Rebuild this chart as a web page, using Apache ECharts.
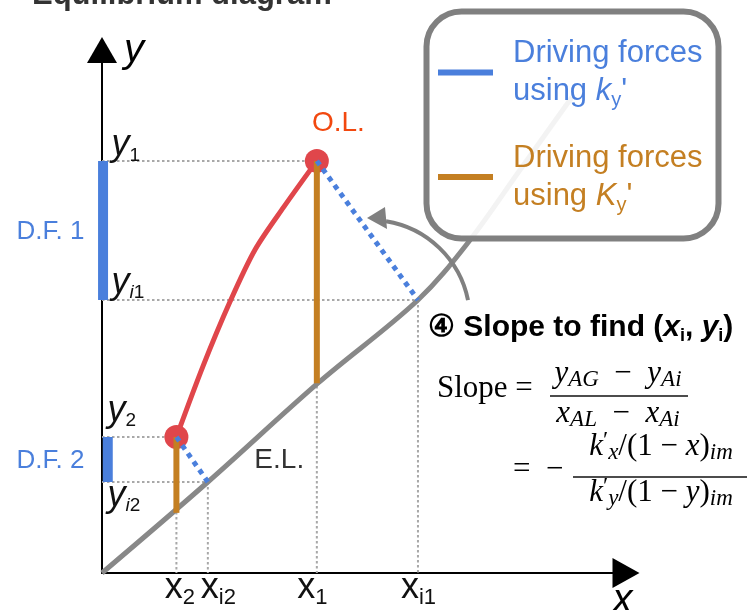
<!DOCTYPE html>
<html><head><meta charset="utf-8">
<script src="https://cdn.jsdelivr.net/npm/echarts@6/dist/echarts.min.js"></script>
<style>html,body{margin:0;padding:0;background:#fff}#c{width:751px;height:610px}</style>
</head><body><div id="c"></div>
<script>
// ---------- data (axis units 0..10) ----------
const elX = [0, 2.02, 4.12, 6.03, 6.98, 7.98, 8.97];          // equilibrium line
const elY = [0, 1.74, 3.63, 5.22, 6.31, 7.71, 9.10];
const olX = [1.42, 1.93, 2.44, 2.92, 3.47, 4.10];              // operating line
const olY = [2.60, 3.96, 5.18, 6.18, 7.00, 7.88];
const opX = [4.10, 1.42];      // x1, x2
const opY = [7.88, 2.60];      // y1, y2
const intX = [6.03, 2.02];     // xi1, xi2
const intY = [5.22, 1.74];     // yi1, yi2
const elAtOpX = [3.63, 1.15];  // E.L. value below x1, x2
const dfX = [0.02, 0.11];      // driving-force bars on the y axis
const dfNames = ['D.F. 1', 'D.F. 2'];
const xTickText = ['{xm|x}{xs|1}', '{xm|x}{xs|2}'];
const xiTickText = ['{xm|x}{xs|i1}', '{xm|x}{xs|i2}'];
const yTickText = ['{ym|y}{ys|1}', '{ym|y}{ys|2}'];
const yiTickText = ['{ym|y}{ysi|i}{ys|1}', '{ym|y}{ysi|i}{ys|2}'];
const legendNames = ['ky', 'Ky'];

// ---------- styles ----------
const F = 'Liberation Sans, Arial, sans-serif';
const S = 'Liberation Serif, Times New Roman, serif';
const BLUE = '#4a7fdc', ORANGE = '#c47f22', RED = '#e0464b', GRAY = '#888888', DOT = '#a8a8a8';

const chart = echarts.init(document.getElementById('c'), null, {renderer: 'canvas'});

function seg(name, pts, ls, z) {
  return {type: 'line', name: name, data: pts, symbol: 'none', silent: true, clip: false,
    animation: false, z: z, lineStyle: Object.assign({cap: 'butt'}, ls),
    itemStyle: {color: ls.color}, emphasis: {disabled: true}};
}

const series = [];
// equilibrium line
series.push(Object.assign(seg('EL', elX.map((x, i) => [x, elY[i]]), {color: GRAY, width: 5}, 2), {smooth: 0.35}));
for (let i = 0; i < 2; i++) {
  const dl = {color: DOT, width: 2, type: [2.5, 2.5]};
  series.push(seg('g', [[0, opY[i]], [opX[i], opY[i]]], dl, 1));
  series.push(seg('g', [[opX[i], opY[i]], [opX[i], 0]], dl, 1));
  series.push(seg('g', [[0, intY[i]], [intX[i], intY[i]]], dl, 1));
  series.push(seg('g', [[intX[i], intY[i]], [intX[i], 0]], dl, 1));
}
// operating line
series.push(Object.assign(seg('OL', olX.map((x, i) => [x, olY[i]]), {color: RED, width: 5, cap: 'round'}, 3), {smooth: 0.3}));
series.push({type: 'scatter', name: 'OLpts', data: opX.map((x, i) => [x, opY[i]]), symbolSize: 24,
  itemStyle: {color: RED, opacity: 1}, silent: true, animation: false, z: 3, clip: false});
for (let i = 0; i < 2; i++) {
  series.push(seg(legendNames[1], [[opX[i], opY[i]], [opX[i], elAtOpX[i]]], {color: ORANGE, width: 6}, 4));
  series.push(seg(legendNames[0], [[dfX[i], opY[i]], [dfX[i], intY[i]]], {color: BLUE, width: 10}, 4));
  series.push(seg(legendNames[0], [[opX[i], opY[i]], [intX[i], intY[i]]], {color: BLUE, width: 5, type: [5, 5]}, 6));
}

// text labels anchored to data points
const rich = {
  ym: {fontFamily: F, fontSize: 36, fontStyle: 'italic', lineHeight: 40, color: '#111'},
  ys: {fontFamily: F, fontSize: 19, lineHeight: 12, verticalAlign: 'bottom', color: '#111'},
  ysi: {fontFamily: F, fontSize: 19, fontStyle: 'italic', lineHeight: 12, verticalAlign: 'bottom', color: '#111'},
  xm: {fontFamily: F, fontSize: 36, lineHeight: 40, color: '#111'},
  xs: {fontFamily: F, fontSize: 22, lineHeight: 24, verticalAlign: 'bottom', color: '#111'},
  ax: {fontFamily: F, fontSize: 40, fontStyle: 'italic', color: '#000'},
  df: {fontFamily: F, fontSize: 26, color: BLUE},
  ol: {fontFamily: F, fontSize: 28, color: '#f2480f'},
  el: {fontFamily: F, fontSize: 28, color: '#333'}
};
function lab(v, text, pos, align, va) {
  return {value: v, label: {show: true, formatter: text, position: pos, align: align, verticalAlign: va, rich: rich, opacity: 1}};
}
const labData = [
  lab([0, opY[0]], yTickText[0], [10, 5], 'left', 'bottom'),
  lab([0, intY[0]], yiTickText[0], [10, 3], 'left', 'bottom'),
  lab([0, opY[1]], yTickText[1], [6, -6], 'left', 'bottom'),
  lab([0, intY[1]], yiTickText[1], [6, 34], 'left', 'bottom'),
  lab([opX[0], 0], xTickText[0], [-4, -4], 'center', 'top'),
  lab([intX[0], 0], xiTickText[0], [1, -4], 'center', 'top'),
  lab([opX[1], 0], xTickText[1], [4, -4], 'center', 'top'),
  lab([intX[1], 0], xiTickText[1], [11, -4], 'center', 'top'),
  lab([10, 0], '{ax|x}', [-3, 28], 'center', 'middle'),
  lab([0, (opY[0] + intY[0]) / 2], '{df|' + dfNames[0] + '}', [-17, 2], 'right', 'middle'),
  lab([0, (opY[1] + intY[1]) / 2], '{df|' + dfNames[1] + '}', [-17, 2], 'right', 'middle'),
  lab([opX[0], opY[0]], '{ol|O.L.}', [22, -37], 'center', 'middle'),
  lab([intX[1], intY[1]], '{el|E.L.}', [47, -21], 'left', 'middle')
];
series.push({type: 'scatter', name: 'labels', data: labData, symbolSize: 1, itemStyle: {color: 'rgba(0,0,0,0)', opacity: 1},
  silent: true, animation: false, z: 10, clip: false});

// formula rich styles
const fr = {
  m: {fontFamily: S, fontSize: 31, lineHeight: 36, color: '#111'},
  mi: {fontFamily: S, fontSize: 31, fontStyle: 'italic', lineHeight: 36, color: '#111'},
  si: {fontFamily: S, fontSize: 23, fontStyle: 'italic', lineHeight: 16, verticalAlign: 'bottom', color: '#111'},
  sup: {fontFamily: S, fontSize: 24, lineHeight: 20, verticalAlign: 'top', color: '#111'},
  b: {fontFamily: F, fontSize: 30, fontWeight: 'bold', lineHeight: 34, color: '#000'},
  bi: {fontFamily: F, fontSize: 30, fontWeight: 'bold', fontStyle: 'italic', lineHeight: 34, color: '#000'},
  bs: {fontFamily: F, fontSize: 18, fontWeight: 'bold', lineHeight: 14, verticalAlign: 'bottom', color: '#000'}
};
function t(x, y, text, align) {
  return {type: 'text', x: x, y: y, z: 20, silent: true,
    style: {text: text, rich: fr, align: align || 'center', verticalAlign: 'middle'}};
}
function bar(xa, xb, y) {
  return {type: 'line', z: 20, silent: true, shape: {x1: xa, y1: y, x2: xb, y2: y}, style: {stroke: '#111', lineWidth: 1.5}};
}

const option = {
  animation: false,
  title: {text: 'Equilibrium diagram', left: 27, top: -25,
    textStyle: {fontFamily: F, fontSize: 31, fontWeight: 'bold', color: '#333'}},
  grid: {left: 102, right: 125, top: 50, bottom: 37, containLabel: false, outerBoundsMode: 'none'},
  xAxis: {type: 'value', min: 0, max: 10, splitLine: {show: false}, axisTick: {show: false}, axisLabel: {show: false},
    axisLine: {lineStyle: {color: '#000', width: 2}, symbol: ['none', 'triangle'], symbolSize: [30, 27]}},
  yAxis: {type: 'value', min: 0, max: 10, splitLine: {show: false}, axisTick: {show: false}, axisLabel: {show: false},
    axisLine: {lineStyle: {color: '#000', width: 2}, symbol: ['none', 'triangle'], symbolSize: [30, 26]},
    name: 'y', nameLocation: 'end', nameGap: -1,
    nameTextStyle: {fontFamily: F, fontSize: 40, fontStyle: 'italic', color: '#000', align: 'left', verticalAlign: 'middle', padding: [0, 0, 0, 22]}},
  legend: {
    data: legendNames, orient: 'vertical', left: 438, top: 38, padding: 0, itemGap: 32,
    icon: 'rect', itemWidth: 55, itemHeight: 6, selectedMode: false, z: 6,
    formatter: function (n) {
      return n === 'ky' ? '{a|Driving forces}\n{a|using }{ai|k}{as|y}{a|\'}'
                        : '{b|Driving forces}\n{b|using }{bi|K}{bs|y}{b|\'}';
    },
    textStyle: {padding: [0, 0, 0, 15], rich: {
      a: {fontFamily: F, fontSize: 31, lineHeight: 38, color: BLUE},
      ai: {fontFamily: F, fontSize: 31, fontStyle: 'italic', lineHeight: 38, color: BLUE},
      as: {fontFamily: F, fontSize: 20, lineHeight: 17, verticalAlign: 'bottom', color: BLUE},
      b: {fontFamily: F, fontSize: 31, lineHeight: 38, color: ORANGE},
      bi: {fontFamily: F, fontSize: 31, fontStyle: 'italic', lineHeight: 38, color: ORANGE},
      bs: {fontFamily: F, fontSize: 20, lineHeight: 17, verticalAlign: 'bottom', color: ORANGE}
    }}
  },
  graphic: [
    {type: 'rect', z: 3, silent: true, shape: {x: 426.5, y: 11.5, width: 292, height: 227, r: 35},
      style: {fill: 'rgba(255,255,255,0.9)', stroke: '#808080', lineWidth: 6}},
    {type: 'arc', z: 5, silent: true, shape: {cx: 370, cy: 320, r: 100, startAngle: -1.41, endAngle: -0.2, clockwise: true},
      style: {fill: 'none', stroke: '#808080', lineWidth: 4}},
    {type: 'polygon', z: 5, silent: true, shape: {points: [[367, 218], [385, 207], [387, 229]]}, style: {fill: '#808080'}},
    t(428, 328, '{b|④ Slope to find (}{bi|x}{bs|i}{b|, }{bi|y}{bs|i}{b|)}', 'left'),
    t(437, 389, '{m|Slope =}', 'left'),
    t(618, 373.5, '{mi|y}{si|AG}{m|  −  }{mi|y}{si|Ai}'),
    bar(550, 688, 396),
    t(618, 413.5, '{mi|x}{si|AL}{m|  −  }{mi|x}{si|Ai}'),
    t(513, 470, '{m|=  −}', 'left'),
    t(661, 446.5, '{mi|k}{sup|′}{si|x}{m|/(1 − }{mi|x}{m|)}{si|im}'),
    bar(573, 747, 477),
    t(661, 492.5, '{mi|k}{sup|′}{si|y}{m|/(1 − }{mi|y}{m|)}{si|im}')
  ],
  series: series
};
chart.setOption(option);
</script></body></html>
